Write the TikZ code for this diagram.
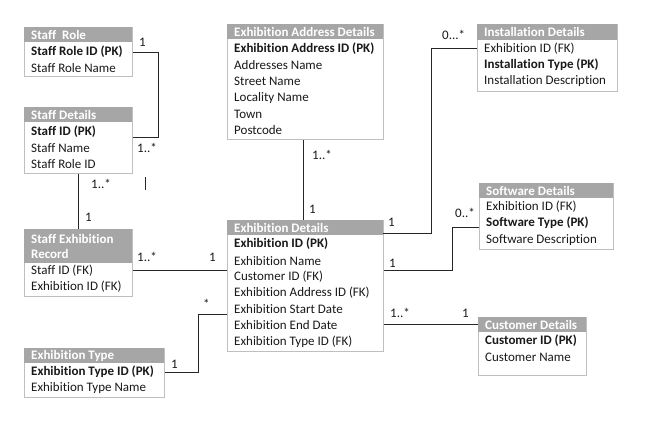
\documentclass[tikz,border=0pt]{standalone}
\usepackage{fontspec}
\setmainfont[Ligatures=NoCommon]{Carlito}
\usepackage{tikz}

\begin{document}
\begin{tikzpicture}[x=1pt,y=-1pt]
%
\definecolor{col_head}{rgb}{0.65,0.65,0.65}
\definecolor{col_frame}{rgb}{0.75,0.75,0.75}
\definecolor{col_text}{rgb}{0.1,0.1,0.1}
\definecolor{col_edge}{rgb}{0.15,0.15,0.15}
%
\tikzset{
  boxframe/.style={draw=col_frame, line width=1pt, fill=white, anchor=north west, inner sep=0pt},
  boxhead/.style={fill=col_head, anchor=north west, inner sep=0pt, minimum height=15},
  title/.style={anchor=west, inner sep=0pt, text=white, align=left,
    font=\fontsize{13}{15}\selectfont\bfseries},
  field/.style={anchor=west, inner sep=0pt, text=col_text, font=\fontsize{13}{15}\selectfont},
  card/.style={anchor=base west, inner sep=0pt, text=col_text, font=\fontsize{13}{15}\selectfont},
  rel/.style={draw=col_edge, line width=0.8pt}
}
%
\useasboundingbox (0,0) rectangle (660,440);
\fill[white] (0,0) rectangle (660,440);
%
% Staff Role
\node[boxframe, minimum width=108, minimum height=49] (srole) at (24,27) {};
\node[boxhead, minimum width=108] (srole-h) at (24,27) {};
\node[title] (srole-t) at (31,35) {Staff\ \ Role};
\node[field] (srole-1) at (31,52) {\textbf{Staff Role ID (PK)}};
\node[field] (srole-2) at (31,68) {Staff Role Name};
%
% Staff Details
\node[boxframe, minimum width=108, minimum height=66] (sdet) at (24,107) {};
\node[boxhead, minimum width=108] (sdet-h) at (24,107) {};
\node[title] (sdet-t) at (31,115) {Staff Details};
\node[field] (sdet-1) at (31,132) {\textbf{Staff ID (PK)}};
\node[field] (sdet-2) at (31,148) {Staff Name};
\node[field] (sdet-3) at (31,164) {Staff Role ID};
%
% Staff Exhibition Record
\node[boxframe, minimum width=108, minimum height=67] (ser) at (24,229) {};
\node[boxhead, minimum width=108, minimum height=34] (ser-h) at (24,229) {};
\node[title] (ser-t) at (31,246) {Staff Exhibition\\Record};
\node[field] (ser-1) at (31,271) {Staff ID (FK)};
\node[field] (ser-2) at (31,287) {Exhibition ID (FK)};
%
% Exhibition Type
\node[boxframe, minimum width=140, minimum height=49] (etype) at (24,348) {};
\node[boxhead, minimum width=140] (etype-h) at (24,348) {};
\node[title] (etype-t) at (31,356) {Exhibition Type};
\node[field] (etype-1) at (31,372) {\textbf{Exhibition Type ID (PK)}};
\node[field] (etype-2) at (31,388) {Exhibition Type Name};
%
% Exhibition Address Details
\node[boxframe, minimum width=156, minimum height=115] (ead) at (227,24) {};
\node[boxhead, minimum width=156] (ead-h) at (227,24) {};
\node[title] (ead-t) at (234,32) {Exhibition Address Details};
\node[field] (ead-1) at (234,49) {\textbf{Exhibition Address ID (PK)}};
\node[field] (ead-2) at (234,65) {Addresses Name};
\node[field] (ead-3) at (234,81) {Street Name};
\node[field] (ead-4) at (234,98) {Locality Name};
\node[field] (ead-5) at (234,114) {Town};
\node[field] (ead-6) at (234,130) {Postcode};
%
% Exhibition Details
\node[boxframe, minimum width=156, minimum height=131] (exd) at (227,220) {};
\node[boxhead, minimum width=156] (exd-h) at (227,220) {};
\node[title] (exd-t) at (234,228) {Exhibition Details};
\node[field] (exd-1) at (234,244) {\textbf{Exhibition ID (PK)}};
\node[field] (exd-2) at (234,261) {Exhibition Name};
\node[field] (exd-3) at (234,277) {Customer ID (FK)};
\node[field] (exd-4) at (234,293) {Exhibition Address ID (FK)};
\node[field] (exd-5) at (234,309) {Exhibition Start Date};
\node[field] (exd-6) at (234,325) {Exhibition End Date};
\node[field] (exd-7) at (234,342) {Exhibition Type ID (FK)};
%
% Installation Details
\node[boxframe, minimum width=140, minimum height=67] (inst) at (477,24) {};
\node[boxhead, minimum width=140, minimum height=16] (inst-h) at (477,24) {};
\node[title] (inst-t) at (484,32) {Installation Details};
\node[field] (inst-1) at (484,49) {Exhibition ID (FK)};
\node[field] (inst-2) at (484,65) {\textbf{Installation Type (PK)}};
\node[field] (inst-3) at (484,81) {Installation Description};
%
% Software Details
\node[boxframe, minimum width=134, minimum height=66] (sw) at (479,183) {};
\node[boxhead, minimum width=134] (sw-h) at (479,183) {};
\node[title] (sw-t) at (486,191) {Software Details};
\node[field] (sw-1) at (486,207) {Exhibition ID (FK)};
\node[field] (sw-2) at (486,223) {\textbf{Software Type (PK)}};
\node[field] (sw-3) at (486,240) {Software Description};
%
% Customer Details
\node[boxframe, minimum width=108, minimum height=58] (cust) at (478,317) {};
\node[boxhead, minimum width=108] (cust-h) at (478,317) {};
\node[title] (cust-t) at (485,325) {Customer Details};
\node[field] (cust-1) at (485,341) {\textbf{Customer ID (PK)}};
\node[field] (cust-2) at (485,357) {Customer Name};
%
% relationships
\draw[rel] (srole-1 -| srole.east) -- ++(25,0) |- ([yshift=-5]sdet-1 -| sdet.east);
\draw[rel] ([xshift=12,yshift=-3]sdet.south east) -- ++(0,13);
\draw[rel] (sdet.south) -- (ser.north);
\draw[rel] ([yshift=1]ser-1 -| ser.east) -- ([yshift=1]ser-1 -| exd.west);
\draw[rel] (etype-1 -| etype.east) -- ++(33,0) |- ([yshift=-5]exd-5 -| exd.west);
\draw[rel] ([xshift=-2]ead.south) -- ([xshift=-2]exd.north);
\draw[rel] ([yshift=2]exd-h.south east) -- ++(48,0) |- ([yshift=1]inst-1 -| inst.west);
\draw[rel] ([yshift=-9]exd-2 -| exd.east) -- ++(68,0) |- ([yshift=-4]sw-2 -| sw.west);
\draw[rel] ([yshift=1]exd-6 -| exd.east) -- ([yshift=1]exd-6 -| cust.west);
%
% cardinalities
\node[card] (c1) at (139,46) {1};
\node[card] (c2) at (137,152) {1..*};
\node[card] (c3) at (91,188) {1..*};
\node[card] (c4) at (85,221) {1};
\node[card] (c5) at (137,261) {1..*};
\node[card] (c6) at (209,261) {1};
\node[card] (c7) at (203,308) {*};
\node[card] (c8) at (171,368) {1};
\node[card] (c9) at (312,159) {1..*};
\node[card] (c10) at (309,213) {1};
\node[card] (c11) at (442,39) {0...*};
\node[card] (c12) at (388,226) {1};
\node[card] (c13) at (389,267) {1};
\node[card] (c14) at (455,217) {0..*};
\node[card] (c15) at (390,317) {1..*};
\node[card] (c16) at (462,317) {1};
%
\end{tikzpicture}
\end{document}
